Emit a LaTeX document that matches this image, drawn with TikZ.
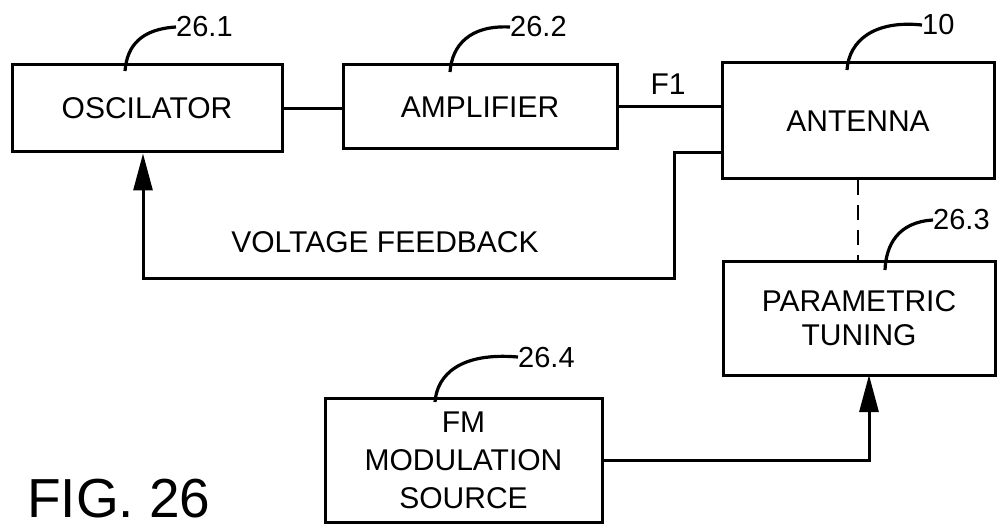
\documentclass[tikz,border=0pt]{standalone}
\usepackage{fontspec}
\setmainfont{Liberation Sans}
\usetikzlibrary{arrows.meta}
\begin{document}
\begin{tikzpicture}[x=1pt,y=-1pt,
  box/.style={draw, line width=3pt, inner sep=0pt, align=center, font=\fontsize{30}{34}\selectfont},
  wire/.style={line width=3pt},
  arr/.style={line width=3pt, -{Triangle[length=37pt,width=19pt]}},
  lead/.style={line width=3.2pt},
  lbl/.style={anchor=base west, inner sep=0pt, font=\fontsize{29}{30}\selectfont},
  txt/.style={inner sep=0pt, font=\fontsize{30}{34}\selectfont}
]
\useasboundingbox (0,0) rectangle (1003,529);

% boxes
\node[box, minimum width=270pt, minimum height=87pt] (osc) at (147,108.5) {OSCILATOR};
\node[box, minimum width=274pt, minimum height=84pt] (amp) at (480,107) {AMPLIFIER};
\node[box, minimum width=272pt, minimum height=116pt] (ant) at (858,121) {ANTENNA};
\node[box, minimum width=272pt, minimum height=114pt, font=\fontsize{30}{34}\selectfont] (par) at (859,318) {PARAMETRIC\\TUNING};
\node[box, minimum width=277pt, minimum height=124pt, font=\fontsize{30}{38}\selectfont] (fm) at (463.5,460) {FM\\MODULATION\\SOURCE};

% reference labels
\node[lbl] (l1) at (176,37) {26.1};
\node[lbl] (l2) at (510,37) {26.2};
\node[lbl] (l3) at (922,35) {10};
\node[lbl] (l4) at (933,230) {26.3};
\node[lbl] (l5) at (518,367) {26.4};

\coordinate (c1) at (125,71);
\coordinate (c2) at (450,72);
\coordinate (c3) at (847,70);
\coordinate (c4) at (885,270);
\coordinate (c5) at (435,402);

\draw[lead] (c1) .. controls (127,45) and (142,29) .. (l1.west);
\draw[lead] (c2) .. controls (452,45) and (470,25) .. (l2.west);
\draw[lead] (c3) .. controls (849,40) and (875,20) .. (l3.west);
\draw[lead] (c4) .. controls (886,245) and (898,222) .. (l4.west);
\draw[lead] (c5) .. controls (437,375) and (460,352) .. (l5.west);

% connectors
\draw[wire] (osc.east) -- (amp.west |- osc.east);
\draw[wire] (amp.east) -- (ant.west |- amp.east);
\node[txt] (f1) at (668,84) {F1};

\coordinate (fbA) at (722,153);
\coordinate (fbB) at (674,153);
\coordinate (fbC) at (674,278);
\coordinate (fbD) at (143,278);
\draw[arr] (fbA) -- (fbB) -- (fbC) -- (fbD) -- (fbD |- osc.south);
\node[txt] (vf) at (385,242) {VOLTAGE FEEDBACK};

\draw[line width=2.5pt, dash pattern=on 15pt off 10pt] (ant.south) -- (ant.south |- par.north);

\coordinate (pin) at (869,375);
\draw[arr] (fm.east) -| (pin);

\node[anchor=base west, inner sep=0pt, text depth=0pt, font=\fontsize{55}{60}\selectfont] (fig) at (27,517) {FIG. 26};
\end{tikzpicture}
\end{document}
